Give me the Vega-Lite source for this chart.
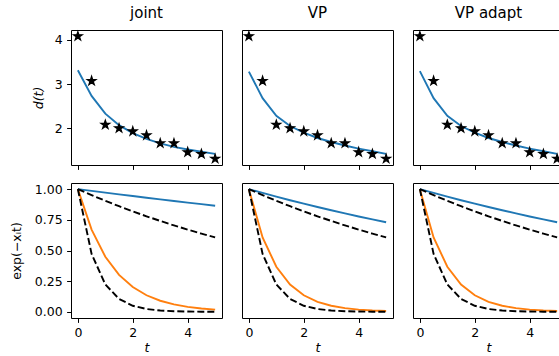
{
  "$schema": "https://vega.github.io/schema/vega-lite/v6.json",
  "background": "white",
  "padding": {"left": 9, "top": 5, "right": 0, "bottom": 0},
  "datasets": {
    "stars": [
      {"t": 0, "d": 4.08}, {"t": 0.5, "d": 3.07}, {"t": 1, "d": 2.08}, {"t": 1.5, "d": 2.0},
      {"t": 2, "d": 1.93}, {"t": 2.5, "d": 1.84}, {"t": 3, "d": 1.66}, {"t": 3.5, "d": 1.66},
      {"t": 4, "d": 1.46}, {"t": 4.5, "d": 1.42}, {"t": 5, "d": 1.31}
    ],
    "fit": [
      {"method": "joint", "t": 0, "d": 3.31}, {"method": "joint", "t": 0.5, "d": 2.73}, {"method": "joint", "t": 1, "d": 2.33},
      {"method": "joint", "t": 1.5, "d": 2.07}, {"method": "joint", "t": 2, "d": 1.89}, {"method": "joint", "t": 2.5, "d": 1.76},
      {"method": "joint", "t": 3, "d": 1.66}, {"method": "joint", "t": 3.5, "d": 1.58}, {"method": "joint", "t": 4, "d": 1.52},
      {"method": "joint", "t": 4.5, "d": 1.47}, {"method": "joint", "t": 5, "d": 1.42},
      {"method": "VP", "t": 0, "d": 3.28}, {"method": "VP", "t": 0.5, "d": 2.68}, {"method": "VP", "t": 1, "d": 2.28},
      {"method": "VP", "t": 1.5, "d": 2.05}, {"method": "VP", "t": 2, "d": 1.9}, {"method": "VP", "t": 2.5, "d": 1.78},
      {"method": "VP", "t": 3, "d": 1.69}, {"method": "VP", "t": 3.5, "d": 1.61}, {"method": "VP", "t": 4, "d": 1.54},
      {"method": "VP", "t": 4.5, "d": 1.48}, {"method": "VP", "t": 5, "d": 1.42},
      {"method": "VP adapt", "t": 0, "d": 3.29}, {"method": "VP adapt", "t": 0.5, "d": 2.68}, {"method": "VP adapt", "t": 1, "d": 2.28},
      {"method": "VP adapt", "t": 1.5, "d": 2.05}, {"method": "VP adapt", "t": 2, "d": 1.9}, {"method": "VP adapt", "t": 2.5, "d": 1.78},
      {"method": "VP adapt", "t": 3, "d": 1.69}, {"method": "VP adapt", "t": 3.5, "d": 1.61}, {"method": "VP adapt", "t": 4, "d": 1.54},
      {"method": "VP adapt", "t": 4.5, "d": 1.48}, {"method": "VP adapt", "t": 5, "d": 1.42}
    ],
    "truth": [
      {"curve": "slow", "t": 0, "v": 1}, {"curve": "slow", "t": 0.5, "v": 0.9512}, {"curve": "slow", "t": 1, "v": 0.9048},
      {"curve": "slow", "t": 1.5, "v": 0.8607}, {"curve": "slow", "t": 2, "v": 0.8187}, {"curve": "slow", "t": 2.5, "v": 0.7788},
      {"curve": "slow", "t": 3, "v": 0.7408}, {"curve": "slow", "t": 3.5, "v": 0.7047}, {"curve": "slow", "t": 4, "v": 0.6703},
      {"curve": "slow", "t": 4.5, "v": 0.6376}, {"curve": "slow", "t": 5, "v": 0.6065},
      {"curve": "fast", "t": 0, "v": 1}, {"curve": "fast", "t": 0.5, "v": 0.4724}, {"curve": "fast", "t": 1, "v": 0.2231},
      {"curve": "fast", "t": 1.5, "v": 0.1054}, {"curve": "fast", "t": 2, "v": 0.0498}, {"curve": "fast", "t": 2.5, "v": 0.0235},
      {"curve": "fast", "t": 3, "v": 0.0111}, {"curve": "fast", "t": 3.5, "v": 0.0052}, {"curve": "fast", "t": 4, "v": 0.0025},
      {"curve": "fast", "t": 4.5, "v": 0.0012}, {"curve": "fast", "t": 5, "v": 0.0006}
    ],
    "est": [
      {"method": "joint", "curve": "a", "t": 0, "v": 1}, {"method": "joint", "curve": "a", "t": 0.5, "v": 0.9856}, {"method": "joint", "curve": "a", "t": 1, "v": 0.9714},
      {"method": "joint", "curve": "a", "t": 1.5, "v": 0.9574}, {"method": "joint", "curve": "a", "t": 2, "v": 0.9436}, {"method": "joint", "curve": "a", "t": 2.5, "v": 0.93},
      {"method": "joint", "curve": "a", "t": 3, "v": 0.9166}, {"method": "joint", "curve": "a", "t": 3.5, "v": 0.9034}, {"method": "joint", "curve": "a", "t": 4, "v": 0.8904},
      {"method": "joint", "curve": "a", "t": 4.5, "v": 0.8776}, {"method": "joint", "curve": "a", "t": 5, "v": 0.865},
      {"method": "joint", "curve": "b", "t": 0, "v": 1}, {"method": "joint", "curve": "b", "t": 0.5, "v": 0.6703}, {"method": "joint", "curve": "b", "t": 1, "v": 0.4493},
      {"method": "joint", "curve": "b", "t": 1.5, "v": 0.3012}, {"method": "joint", "curve": "b", "t": 2, "v": 0.2019}, {"method": "joint", "curve": "b", "t": 2.5, "v": 0.1353},
      {"method": "joint", "curve": "b", "t": 3, "v": 0.0907}, {"method": "joint", "curve": "b", "t": 3.5, "v": 0.0608}, {"method": "joint", "curve": "b", "t": 4, "v": 0.0408},
      {"method": "joint", "curve": "b", "t": 4.5, "v": 0.0273}, {"method": "joint", "curve": "b", "t": 5, "v": 0.0183},
      {"method": "VP", "curve": "a", "t": 0, "v": 1}, {"method": "VP", "curve": "a", "t": 0.5, "v": 0.969}, {"method": "VP", "curve": "a", "t": 1, "v": 0.9389},
      {"method": "VP", "curve": "a", "t": 1.5, "v": 0.9098}, {"method": "VP", "curve": "a", "t": 2, "v": 0.8816}, {"method": "VP", "curve": "a", "t": 2.5, "v": 0.8543},
      {"method": "VP", "curve": "a", "t": 3, "v": 0.8278}, {"method": "VP", "curve": "a", "t": 3.5, "v": 0.8021}, {"method": "VP", "curve": "a", "t": 4, "v": 0.7772},
      {"method": "VP", "curve": "a", "t": 4.5, "v": 0.7531}, {"method": "VP", "curve": "a", "t": 5, "v": 0.7298},
      {"method": "VP", "curve": "b", "t": 0, "v": 1}, {"method": "VP", "curve": "b", "t": 0.5, "v": 0.6065}, {"method": "VP", "curve": "b", "t": 1, "v": 0.3679},
      {"method": "VP", "curve": "b", "t": 1.5, "v": 0.2231}, {"method": "VP", "curve": "b", "t": 2, "v": 0.1353}, {"method": "VP", "curve": "b", "t": 2.5, "v": 0.0821},
      {"method": "VP", "curve": "b", "t": 3, "v": 0.0498}, {"method": "VP", "curve": "b", "t": 3.5, "v": 0.0302}, {"method": "VP", "curve": "b", "t": 4, "v": 0.0183},
      {"method": "VP", "curve": "b", "t": 4.5, "v": 0.0111}, {"method": "VP", "curve": "b", "t": 5, "v": 0.0067},
      {"method": "VP adapt", "curve": "a", "t": 0, "v": 1}, {"method": "VP adapt", "curve": "a", "t": 0.5, "v": 0.969}, {"method": "VP adapt", "curve": "a", "t": 1, "v": 0.9389},
      {"method": "VP adapt", "curve": "a", "t": 1.5, "v": 0.9098}, {"method": "VP adapt", "curve": "a", "t": 2, "v": 0.8816}, {"method": "VP adapt", "curve": "a", "t": 2.5, "v": 0.8543},
      {"method": "VP adapt", "curve": "a", "t": 3, "v": 0.8278}, {"method": "VP adapt", "curve": "a", "t": 3.5, "v": 0.8021}, {"method": "VP adapt", "curve": "a", "t": 4, "v": 0.7772},
      {"method": "VP adapt", "curve": "a", "t": 4.5, "v": 0.7531}, {"method": "VP adapt", "curve": "a", "t": 5, "v": 0.7298},
      {"method": "VP adapt", "curve": "b", "t": 0, "v": 1}, {"method": "VP adapt", "curve": "b", "t": 0.5, "v": 0.6065}, {"method": "VP adapt", "curve": "b", "t": 1, "v": 0.3679},
      {"method": "VP adapt", "curve": "b", "t": 1.5, "v": 0.2231}, {"method": "VP adapt", "curve": "b", "t": 2, "v": 0.1353}, {"method": "VP adapt", "curve": "b", "t": 2.5, "v": 0.0821},
      {"method": "VP adapt", "curve": "b", "t": 3, "v": 0.0498}, {"method": "VP adapt", "curve": "b", "t": 3.5, "v": 0.0302}, {"method": "VP adapt", "curve": "b", "t": 4, "v": 0.0183},
      {"method": "VP adapt", "curve": "b", "t": 4.5, "v": 0.0111}, {"method": "VP adapt", "curve": "b", "t": 5, "v": 0.0067}
    ]
  },
  "columns": 3,
  "bounds": "flush",
  "spacing": {"row": 18, "column": 20},
  "concat": [
    {
      "title": "joint", "width": 151, "height": 135,
      "layer": [
        {"data": {"name": "fit"}, "transform": [{"filter": "datum.method === 'joint'"}],
         "mark": {"type": "line", "color": "#1f77b4", "strokeWidth": 1.9},
         "encoding": {
           "x": {"field": "t", "type": "quantitative", "scale": {"domain": [-0.25, 5.25], "nice": false, "zero": false}, "axis": {"values": [0, 2, 4], "labels": false, "title": null}},
           "y": {"field": "d", "type": "quantitative", "scale": {"domain": [1.17, 4.22], "nice": false, "zero": false}, "axis": {"values": [2, 3, 4], "title": "d(t)", "titleFontStyle": "italic", "titlePadding": 9}}}},
        {"data": {"name": "stars"},
         "mark": {"type": "point", "shape": "M0,-1L0.2245,-0.309L0.951,-0.309L0.363,0.118L0.588,0.809L0,0.382L-0.588,0.809L-0.363,0.118L-0.951,-0.309L-0.2245,-0.309Z", "filled": true, "color": "black", "stroke": "black", "strokeWidth": 1.2, "size": 85, "opacity": 1},
         "encoding": {"x": {"field": "t", "type": "quantitative"}, "y": {"field": "d", "type": "quantitative"}}}
      ]
    },
    {
      "title": "VP", "width": 151, "height": 135,
      "layer": [
        {"data": {"name": "fit"}, "transform": [{"filter": "datum.method === 'VP'"}],
         "mark": {"type": "line", "color": "#1f77b4", "strokeWidth": 1.9},
         "encoding": {
           "x": {"field": "t", "type": "quantitative", "scale": {"domain": [-0.25, 5.25], "nice": false, "zero": false}, "axis": {"values": [0, 2, 4], "labels": false, "title": null}},
           "y": {"field": "d", "type": "quantitative", "scale": {"domain": [1.17, 4.22], "nice": false, "zero": false}, "axis": null}}},
        {"data": {"name": "stars"},
         "mark": {"type": "point", "shape": "M0,-1L0.2245,-0.309L0.951,-0.309L0.363,0.118L0.588,0.809L0,0.382L-0.588,0.809L-0.363,0.118L-0.951,-0.309L-0.2245,-0.309Z", "filled": true, "color": "black", "stroke": "black", "strokeWidth": 1.2, "size": 85, "opacity": 1},
         "encoding": {"x": {"field": "t", "type": "quantitative"}, "y": {"field": "d", "type": "quantitative"}}}
      ]
    },
    {
      "title": "VP adapt", "width": 151, "height": 135,
      "layer": [
        {"data": {"name": "fit"}, "transform": [{"filter": "datum.method === 'VP adapt'"}],
         "mark": {"type": "line", "color": "#1f77b4", "strokeWidth": 1.9},
         "encoding": {
           "x": {"field": "t", "type": "quantitative", "scale": {"domain": [-0.25, 5.25], "nice": false, "zero": false}, "axis": {"values": [0, 2, 4], "labels": false, "title": null}},
           "y": {"field": "d", "type": "quantitative", "scale": {"domain": [1.17, 4.22], "nice": false, "zero": false}, "axis": null}}},
        {"data": {"name": "stars"},
         "mark": {"type": "point", "shape": "M0,-1L0.2245,-0.309L0.951,-0.309L0.363,0.118L0.588,0.809L0,0.382L-0.588,0.809L-0.363,0.118L-0.951,-0.309L-0.2245,-0.309Z", "filled": true, "color": "black", "stroke": "black", "strokeWidth": 1.2, "size": 85, "opacity": 1},
         "encoding": {"x": {"field": "t", "type": "quantitative"}, "y": {"field": "d", "type": "quantitative"}}}
      ]
    },
    {
      "width": 151, "height": 135,
      "layer": [
        {"data": {"name": "est"}, "transform": [{"filter": "datum.method === 'joint'"}],
         "mark": {"type": "line", "strokeWidth": 1.9},
         "encoding": {
           "x": {"field": "t", "type": "quantitative", "scale": {"domain": [-0.25, 5.25], "nice": false, "zero": false}, "axis": {"values": [0, 2, 4], "title": "t", "titleFontStyle": "italic", "titlePadding": 2}},
           "y": {"field": "v", "type": "quantitative", "scale": {"domain": [-0.05, 1.05], "nice": false, "zero": false}, "axis": {"values": [0, 0.25, 0.5, 0.75, 1], "format": ".2f", "labelOverlap": false, "labelBound": false, "title": "exp(−xᵢt)", "titlePadding": 11}},
           "color": {"field": "curve", "type": "nominal", "scale": {"domain": ["a", "b"], "range": ["#1f77b4", "#ff7f0e"]}, "legend": null}}},
        {"data": {"name": "truth"},
         "mark": {"type": "line", "strokeWidth": 1.9, "color": "black", "strokeDash": [7, 3]},
         "encoding": {
           "x": {"field": "t", "type": "quantitative"},
           "y": {"field": "v", "type": "quantitative", "axis": {"values": [0, 0.25, 0.5, 0.75, 1], "format": ".2f", "labelOverlap": false, "labelBound": false, "title": "exp(−xᵢt)", "titlePadding": 11}},
           "detail": {"field": "curve", "type": "nominal"}}}
      ]
    },
    {
      "width": 151, "height": 135,
      "layer": [
        {"data": {"name": "est"}, "transform": [{"filter": "datum.method === 'VP'"}],
         "mark": {"type": "line", "strokeWidth": 1.9},
         "encoding": {
           "x": {"field": "t", "type": "quantitative", "scale": {"domain": [-0.25, 5.25], "nice": false, "zero": false}, "axis": {"values": [0, 2, 4], "title": "t", "titleFontStyle": "italic", "titlePadding": 2}},
           "y": {"field": "v", "type": "quantitative", "scale": {"domain": [-0.05, 1.05], "nice": false, "zero": false}, "axis": null},
           "color": {"field": "curve", "type": "nominal", "scale": {"domain": ["a", "b"], "range": ["#1f77b4", "#ff7f0e"]}, "legend": null}}},
        {"data": {"name": "truth"},
         "mark": {"type": "line", "strokeWidth": 1.9, "color": "black", "strokeDash": [7, 3]},
         "encoding": {"x": {"field": "t", "type": "quantitative"}, "y": {"field": "v", "type": "quantitative", "axis": null}, "detail": {"field": "curve", "type": "nominal"}}}
      ]
    },
    {
      "width": 151, "height": 135,
      "layer": [
        {"data": {"name": "est"}, "transform": [{"filter": "datum.method === 'VP adapt'"}],
         "mark": {"type": "line", "strokeWidth": 1.9},
         "encoding": {
           "x": {"field": "t", "type": "quantitative", "scale": {"domain": [-0.25, 5.25], "nice": false, "zero": false}, "axis": {"values": [0, 2, 4], "title": "t", "titleFontStyle": "italic", "titlePadding": 2}},
           "y": {"field": "v", "type": "quantitative", "scale": {"domain": [-0.05, 1.05], "nice": false, "zero": false}, "axis": null},
           "color": {"field": "curve", "type": "nominal", "scale": {"domain": ["a", "b"], "range": ["#1f77b4", "#ff7f0e"]}, "legend": null}}},
        {"data": {"name": "truth"},
         "mark": {"type": "line", "strokeWidth": 1.9, "color": "black", "strokeDash": [7, 3]},
         "encoding": {"x": {"field": "t", "type": "quantitative"}, "y": {"field": "v", "type": "quantitative", "axis": null}, "detail": {"field": "curve", "type": "nominal"}}}
      ]
    }
  ],
  "config": {
    "font": "DejaVu Sans",
    "view": {"stroke": "black", "strokeWidth": 1},
    "axis": {
      "domain": false, "grid": false, "labelOverlap": false,
      "tickColor": "black", "tickWidth": 1, "tickSize": 4.4,
      "labelPadding": 4.4, "labelColor": "black", "labelFont": "DejaVu Sans", "labelFontSize": 12.5,
      "titleFont": "DejaVu Sans", "titleFontSize": 12.5, "titleFontWeight": "normal", "titleColor": "black"
    },
    "title": {"font": "DejaVu Sans", "fontSize": 15, "fontWeight": "normal", "color": "black", "baseline": "alphabetic", "offset": 8, "anchor": "middle"}
  }
}
